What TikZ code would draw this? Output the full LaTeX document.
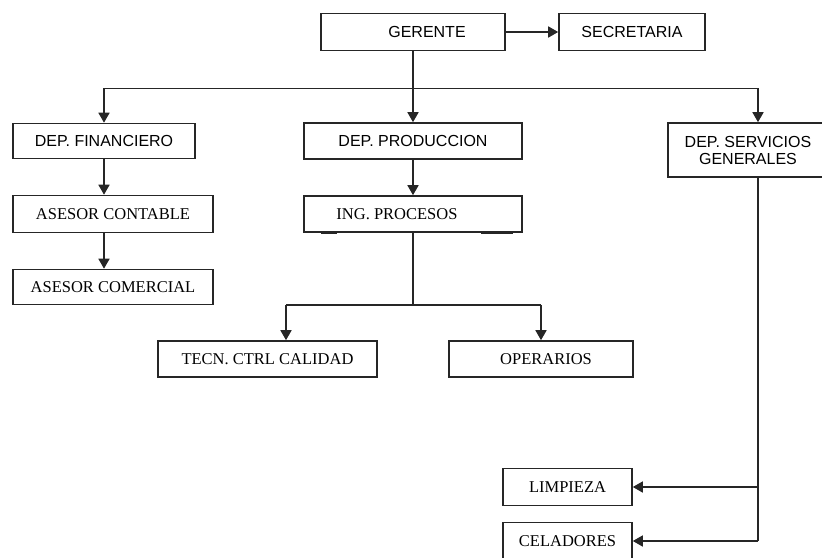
\documentclass[tikz,border=0pt]{standalone}
\usepackage{fontspec}
\setmainfont{Liberation Serif}
\newfontfamily\arialfont{Liberation Sans}
\usetikzlibrary{arrows.meta}

\begin{document}
\begin{tikzpicture}[x=1pt,y=-1pt,line width=1.6pt,draw=black!85,
  >={Triangle[length=10pt,width=11pt]},
  caja/.style={draw=black!85,inner sep=0pt,minimum height=36pt},
  dep/.style={caja,font=\arialfont\fontsize{16}{17}\selectfont,align=center},
  cargo/.style={caja,font=\fontsize{16.5}{18}\selectfont}] % organigrama de la empresa
\useasboundingbox (0,0) rectangle (822,557);
\clip (0,0) rectangle (822,557);
\node[dep,minimum width=184pt,minimum height=37pt] (ger) at (413,32) {\hspace*{28pt}GERENTE};
\node[dep,minimum width=146pt,minimum height=37pt] (sec) at (632,32) {SECRETARIA};
\node[dep,minimum width=182pt,minimum height=35pt] (fin) at (104,141) {DEP. FINANCIERO};
\node[dep,minimum width=218pt] (pro) at (413,141) {DEP. PRODUCCION};
\node[dep,minimum width=160pt,minimum height=54pt] (ser) at (748,150) {DEP. SERVICIOS\\GENERALES};
\node[cargo,minimum width=200pt,minimum height=37pt] (con) at (113,214) {ASESOR CONTABLE};
\node[cargo,minimum width=200pt,minimum height=35pt] (com) at (113,287) {ASESOR COMERCIAL};
\node[cargo,minimum width=218pt] (ing) at (413,214) {ING. PROCESOS\hspace*{32pt}};
\node[cargo,minimum width=219pt] (cal) at (267.5,359) {TECN. CTRL CALIDAD};
\node[cargo,minimum width=184pt] (ope) at (541,359) {\hspace*{10pt}OPERARIOS};
\node[cargo,minimum width=129pt,minimum height=37pt] (lim) at (567.5,487) {LIMPIEZA};
\node[cargo,minimum width=129pt,minimum height=37pt] (cel) at (567.5,541) {CELADORES};
% trazos gruesos en el borde inferior
\draw[line width=3pt] ([xshift=18pt]ing.south west) -- ++(16,0);
\draw[line width=3pt] ([xshift=-42pt]ing.south east) -- ++(32,0);
% gerente
\draw[->] (ger.east) -- (sec.west);
\draw (ger.south) -- ++(0,37) coordinate (bus);
\coordinate (sertop) at ([xshift=10pt]ser.north);
\coordinate (serbot) at ([xshift=10pt]ser.south);
\draw (bus -| fin.north) -- (bus -| sertop);
\draw[->] (bus -| fin.north) -- (fin.north);
\draw[->] (bus) -- (pro.north);
\draw[->] (bus -| sertop) -- (sertop);
% financiero
\draw[->] (fin.south) -- (con.north -| fin.south);
\draw[->] (con.south -| fin.south) -- (com.north -| fin.south);
% produccion
\draw[->] (pro.south) -- (ing.north);
\coordinate (calin) at ([xshift=18.5pt]cal.north);
\draw (ing.south) -- ++(0,72) coordinate (bus2);
\draw (bus2 -| calin) -- (bus2 -| ope.north);
\draw[->] (bus2 -| calin) -- (calin);
\draw[->] (bus2 -| ope.north) -- (ope.north);
% servicios generales
\draw (serbot) -- (serbot |- cel.east);
\draw[->] (serbot |- lim.east) -- (lim.east);
\draw[->] (serbot |- cel.east) -- (cel.east);
\end{tikzpicture}
\end{document}
